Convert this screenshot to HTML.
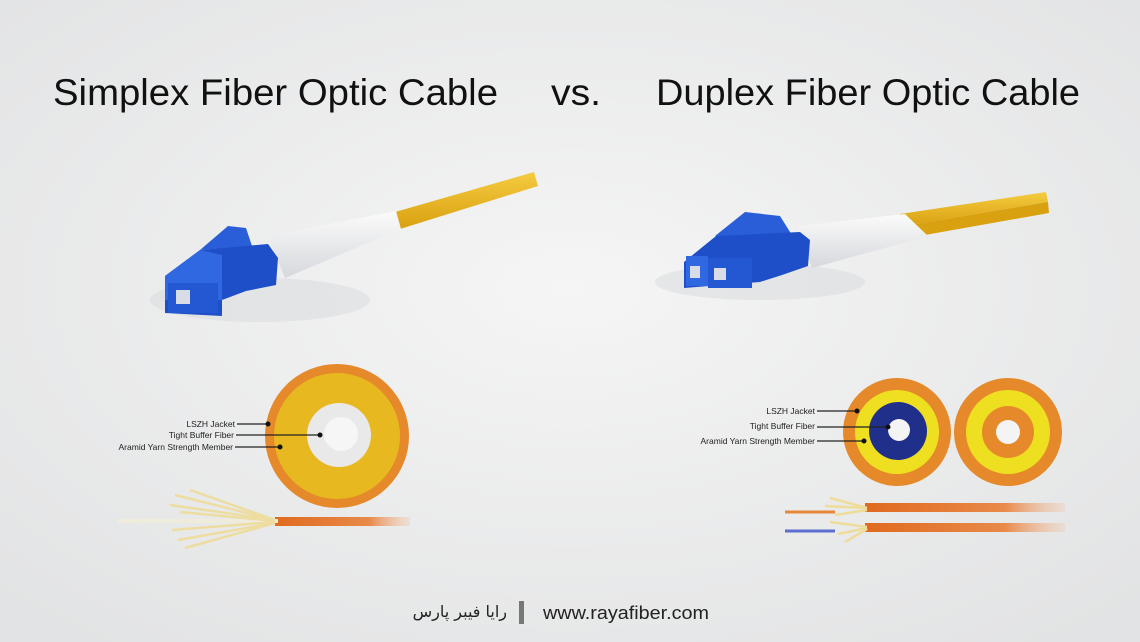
<!DOCTYPE html>
<html><head><meta charset="utf-8"><style>
html,body{margin:0;padding:0;width:1140px;height:642px;overflow:hidden;position:relative}
.fa{position:absolute;right:633px;top:600px;font-family:"DejaVu Sans","Liberation Sans",sans-serif;font-size:16px;color:#222;direction:rtl;white-space:nowrap;line-height:24px}
</style></head><body>
<svg width="1140" height="642" viewBox="0 0 1140 642" xmlns="http://www.w3.org/2000/svg" style="position:absolute;left:0;top:0">
<defs>
<radialGradient id="bg" cx="50%" cy="45%" r="70%">
<stop offset="0" stop-color="#f5f5f5"/><stop offset="1" stop-color="#e2e3e4"/>
</radialGradient>
<linearGradient id="fadeL" x1="0" x2="1"><stop offset="0" stop-color="#e06a1e"/><stop offset="0.7" stop-color="#e88a4a"/><stop offset="1" stop-color="#f0c6a8" stop-opacity="0.3"/></linearGradient>
<linearGradient id="yel" x1="0" y1="0" x2="0" y2="1"><stop offset="0" stop-color="#f5cc40"/><stop offset="1" stop-color="#d9a010"/></linearGradient>
<linearGradient id="wht" x1="0" y1="0" x2="0" y2="1"><stop offset="0" stop-color="#fbfbfb"/><stop offset="1" stop-color="#d6d8dc"/></linearGradient>
</defs>
<rect width="1140" height="642" fill="url(#bg)"/>
<g font-family="Liberation Sans, DejaVu Sans, sans-serif" fill="#111">
<text x="53" y="105" font-size="37" textLength="445" lengthAdjust="spacingAndGlyphs">Simplex Fiber Optic Cable</text>
<text x="551" y="105" font-size="37" textLength="50" lengthAdjust="spacingAndGlyphs">vs.</text>
<text x="656" y="105" font-size="37" textLength="424" lengthAdjust="spacingAndGlyphs">Duplex Fiber Optic Cable</text>
</g>
<!-- left connector -->
<ellipse cx="260" cy="300" rx="110" ry="22" fill="#d8d9db" opacity="0.5"/>
<polygon points="395,212 534,172 538,186 400,229" fill="url(#yel)"/>
<polygon points="268,236 396,211 401,229 285,278" fill="url(#wht)"/>
<polygon points="200,250 228,226 246,228 252,246" fill="#2a5ed8"/>
<polygon points="165,276 200,250 268,244 278,258 276,285 246,291 222,300 222,316 165,313" fill="#1e4fc8"/>
<polygon points="165,276 200,250 222,255 222,300 165,300" fill="#2f68e0"/>
<rect x="168" y="283" width="50" height="30" fill="#2458d2"/>
<rect x="176" y="290" width="14" height="14" fill="#d8dce6"/>
<!-- right connector -->
<ellipse cx="760" cy="282" rx="105" ry="18" fill="#d8d9db" opacity="0.5"/>
<polygon points="900,214 1046,192 1048,202 904,226" fill="url(#yel)"/>
<polygon points="904,226 1048,202 1049,213 908,238" fill="#d9a010"/>
<polygon points="798,226 905,214 928,236 812,268" fill="url(#wht)"/>
<polygon points="715,236 745,212 780,216 795,240" fill="#2a5ed8"/>
<polygon points="684,262 716,236 800,232 810,240 808,266 782,275 760,282 684,288" fill="#1e4fc8"/>
<rect x="686" y="256" width="22" height="30" fill="#2f68e0"/>
<rect x="708" y="258" width="44" height="30" fill="#2458d2"/>
<rect x="690" y="266" width="10" height="12" fill="#d8dce6"/>
<rect x="714" y="268" width="12" height="12" fill="#d8dce6"/>
<!-- left circle -->
<circle cx="337" cy="436" r="72" fill="#e5892a"/>
<circle cx="337" cy="436" r="63" fill="#e8b820"/>
<circle cx="339" cy="435" r="32" fill="#e9e9ea"/>
<circle cx="341" cy="434" r="17" fill="#f6f6f6"/>
<!-- right circles -->
<circle cx="897" cy="432" r="54" fill="#e5892a"/>
<circle cx="897" cy="432" r="42" fill="#eee020"/>
<circle cx="898" cy="431" r="29" fill="#1f2f8a"/>
<circle cx="899" cy="430" r="11" fill="#f4f4f4"/>
<circle cx="1008" cy="432" r="54" fill="#e5892a"/>
<circle cx="1008" cy="432" r="42" fill="#eee020"/>
<circle cx="1008" cy="432" r="26" fill="#e5892a"/>
<circle cx="1008" cy="432" r="12" fill="#f4f4f4"/>
<g stroke="#222" stroke-width="1.2">
<line x1="237" y1="424" x2="268" y2="424"/><line x1="236" y1="435" x2="320" y2="435"/><line x1="235" y1="447" x2="280" y2="447"/>
<line x1="817" y1="411" x2="857" y2="411"/><line x1="817" y1="427" x2="888" y2="427"/><line x1="817" y1="441" x2="864" y2="441"/>
</g>
<g fill="#111"><circle cx="268" cy="424" r="2.5"/><circle cx="320" cy="435" r="2.5"/><circle cx="280" cy="447" r="2.5"/>
<circle cx="857" cy="411" r="2.5"/><circle cx="888" cy="427" r="2.5"/><circle cx="864" cy="441" r="2.5"/></g>
<g font-family="Liberation Sans, sans-serif" font-size="8.5" fill="#222" text-anchor="end">
<text x="235" y="427">LSZH Jacket</text><text x="234" y="438">Tight Buffer Fiber</text><text x="233" y="450">Aramid Yarn Strength Member</text>
<text x="815" y="414">LSZH Jacket</text><text x="815" y="429">Tight Buffer Fiber</text><text x="815" y="444">Aramid Yarn Strength Member</text>
</g>
<!-- left fiber strand -->
<rect x="275" y="517" width="135" height="9" fill="url(#fadeL)"/>
<line x1="118" y1="521" x2="278" y2="521" stroke="#f0ecdc" stroke-width="4"/>
<g stroke="#eedc9a" stroke-width="2.5" opacity="0.9">
<line x1="175" y1="495" x2="275" y2="520"/><line x1="170" y1="505" x2="275" y2="520"/><line x1="180" y1="512" x2="275" y2="521"/>
<line x1="172" y1="530" x2="275" y2="522"/><line x1="178" y1="540" x2="275" y2="523"/><line x1="185" y1="548" x2="275" y2="523"/>
<line x1="190" y1="490" x2="275" y2="520"/></g>
<!-- right fiber strands -->
<rect x="865" y="503" width="200" height="9" fill="url(#fadeL)"/>
<rect x="865" y="523" width="200" height="9" fill="url(#fadeL)"/>
<line x1="785" y1="512" x2="835" y2="512" stroke="#e8893a" stroke-width="3"/>
<line x1="785" y1="531" x2="835" y2="531" stroke="#5a6fd0" stroke-width="3"/>
<g stroke="#eedc9a" stroke-width="2.5">
<line x1="830" y1="498" x2="867" y2="508"/><line x1="825" y1="506" x2="867" y2="508"/><line x1="835" y1="515" x2="867" y2="510"/>
<line x1="830" y1="522" x2="867" y2="527"/><line x1="838" y1="534" x2="867" y2="528"/><line x1="845" y1="542" x2="867" y2="529"/></g>
<!-- footer -->
<rect x="519" y="601" width="5" height="23" fill="#777"/>
<text x="543" y="619" font-family="Liberation Sans, sans-serif" font-size="18" fill="#222" textLength="166" lengthAdjust="spacingAndGlyphs">www.rayafiber.com</text>
</svg>
<div class="fa">رایا فیبر پارس</div>
</body></html>
